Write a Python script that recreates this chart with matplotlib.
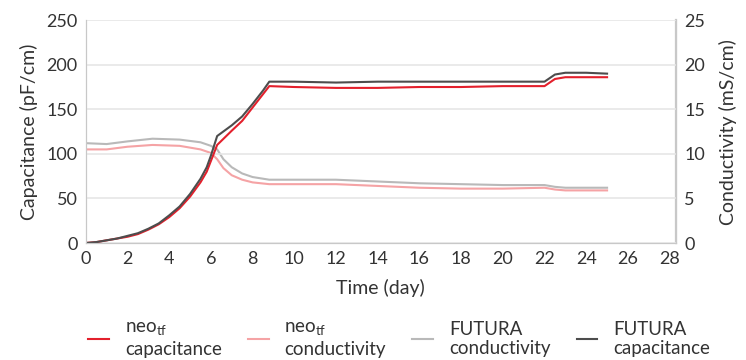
import numpy as np
import matplotlib.pyplot as plt

plt.rcParams['font.family'] = ['Lato', 'DejaVu Sans']

# capacitance (pF/cm)
day_cap = [0, 0.5, 1, 1.5, 2, 2.5, 3, 3.5, 4, 4.5, 5, 5.5, 5.8, 6, 6.3, 7, 7.5, 8, 8.5, 8.8,
           10, 12, 14, 16, 18, 20, 22, 22.5, 23, 24, 25]
neo_cap = [0, 1, 3, 5, 7, 10, 15, 21, 29, 39, 52, 68, 80, 92, 110, 126, 137, 152, 167, 176,
           175, 174, 174, 175, 175, 176, 176, 184, 186, 186, 186]
futura_cap = [0, 1, 3, 5, 8, 11, 16, 22, 31, 41, 55, 72, 85, 98, 120, 132, 142, 156, 171, 181,
              181, 180, 181, 181, 181, 181, 181, 189, 191, 191, 190]

# conductivity (mS/cm)
day_cond = [0, 1, 2, 3.2, 4.5, 5.5, 6.0, 6.3, 6.6, 7.0, 7.5, 8, 8.8, 10, 12, 14, 16, 18, 20,
            22, 22.5, 23, 24, 25]
neo_cond = [10.5, 10.5, 10.8, 11.0, 10.9, 10.5, 10.1, 9.4, 8.4, 7.6, 7.1, 6.8, 6.6, 6.6, 6.6,
            6.4, 6.2, 6.1, 6.1, 6.2, 6.0, 5.9, 5.9, 5.9]
futura_cond = [11.2, 11.1, 11.4, 11.7, 11.6, 11.3, 10.9, 10.5, 9.4, 8.5, 7.8, 7.4, 7.1, 7.1, 7.1,
               6.9, 6.7, 6.6, 6.5, 6.5, 6.3, 6.2, 6.2, 6.2]

red = '#e3202c'
pink = '#f5a3a5'
lgray = '#b9b9b9'
dgray = '#4d4d4d'
tcol = '#333333'

fig = plt.figure(figsize=(7.46, 3.6), dpi=100)
ax = fig.add_axes([0.115, 0.325, 0.791, 0.619])
ax2 = ax.twinx()

l1, = ax.plot(day_cap, neo_cap, color=red, lw=1.5)
l4, = ax.plot(day_cap, futura_cap, color=dgray, lw=1.5)
l2, = ax2.plot(day_cond, neo_cond, color=pink, lw=1.5)
l3, = ax2.plot(day_cond, futura_cond, color=lgray, lw=1.5)
ax.set_zorder(ax2.get_zorder() + 1)
ax.patch.set_visible(False)

ax.set_xlim(0, 28.3)
ax.set_ylim(0, 250)
ax2.set_ylim(0, 25)
ax.set_xticks(np.arange(0, 29, 2))
ax.set_yticks(np.arange(0, 251, 50))
ax2.set_yticks(np.arange(0, 26, 5))
ax.grid(axis='y', color='#e6e6e6', lw=1.2)
ax.set_axisbelow(True)

for a in (ax, ax2):
    a.tick_params(length=0, labelsize=13, colors=tcol, pad=6)
    a.spines['top'].set_visible(False)
    for s in ('left', 'right', 'bottom'):
        a.spines[s].set_color('#c8c8c8')
ax2.spines['right'].set_linewidth(1.6)

ax.set_xlabel('Time (day)', fontsize=14, color=tcol, labelpad=8)
ax.set_ylabel('Capacitance (pF/cm)', fontsize=14, color=tcol, labelpad=6)
ax2.set_ylabel('Conductivity (mS/cm)', fontsize=14, color=tcol, labelpad=10)

labels = ['neo$_{\\mathregular{tf}}$\ncapacitance', 'neo$_{\\mathregular{tf}}$\nconductivity',
          'FUTURA\nconductivity', 'FUTURA\ncapacitance']
fig.legend([l1, l2, l3, l4], labels, loc='lower center', bbox_to_anchor=(0.535, -0.04), ncol=4,
           frameon=False, fontsize=13.5, handlelength=1.1, handletextpad=0.85, columnspacing=1.4,
           labelcolor=tcol)

fig.savefig('out.png', dpi=100)
